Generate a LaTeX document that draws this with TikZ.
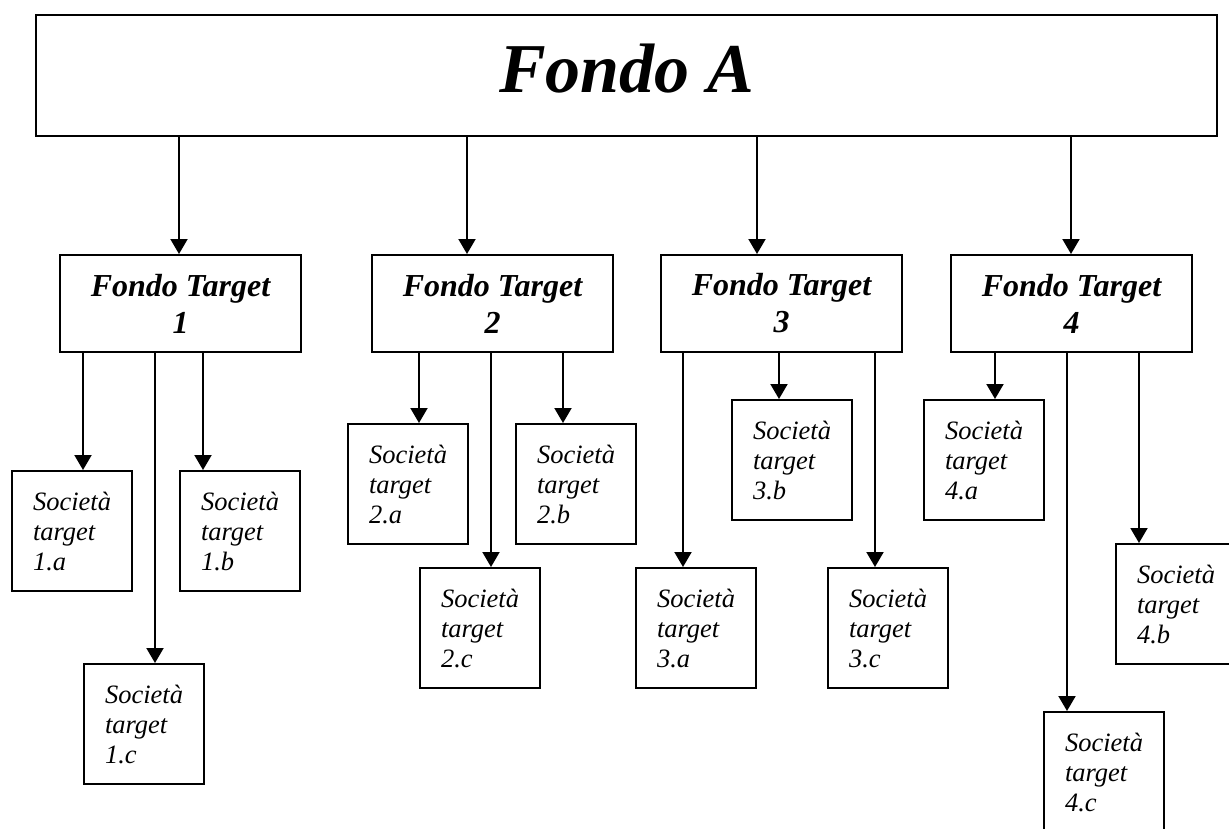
\documentclass[tikz,border=0pt]{standalone}
\usepackage{fontspec}
\setmainfont{Liberation Serif}
\usetikzlibrary{arrows.meta,calc,positioning}

\tikzset{
  boxline/.style={draw, line width=2pt},
  arr/.style={line width=2pt, -{Triangle[width=17pt,length=15pt]}},
  fundbox/.style={boxline, anchor=north west, inner sep=0pt,
    minimum width=1181pt, minimum height=121pt,
    font=\fontsize{70}{80}\selectfont\bfseries\itshape,
    text height=48pt, text depth=15pt},
  targetbox/.style={boxline, anchor=north west, inner sep=0pt,
    minimum width=241pt, minimum height=97pt, align=center,
    font=\fontsize{32}{37}\selectfont\bfseries\itshape},
  subbox/.style={boxline, anchor=north west, inner sep=0pt,
    minimum width=120pt, minimum height=120pt, align=left,
    font=\fontsize{26.5}{30}\selectfont\itshape}
}

\begin{document}
\begin{tikzpicture}[x=1pt, y=-1pt]
  % fix page size and cut what runs off the edge
  \useasboundingbox (0,0) rectangle (1229,828);
  \clip (0,0) rectangle (1229,828);

  % define main fund
  \node[fundbox] (fa) at (35,14) {Fondo A};

  % define target funds
  \node[targetbox] (ft1) at (59,254) {Fondo Target\\1};
  \node[targetbox] (ft2) at (371,254) {Fondo Target\\2};
  \node[targetbox] (ft3) at (660,254) {Fondo Target\\3};
  \node[targetbox] (ft4) at (950,254) {Fondo Target\\4};

  % define target companies
  \node[subbox] (s1a) at (11,470) {Società\\target\\1.a};
  \node[subbox] (s1b) at (179,470) {Società\\target\\1.b};
  \node[subbox] (s1c) at (83,663) {Società\\target\\1.c};
  \node[subbox] (s2a) at (347,423) {Società\\target\\2.a};
  \node[subbox] (s2b) at (515,423) {Società\\target\\2.b};
  \node[subbox] (s2c) at (419,567) {Società\\target\\2.c};
  \node[subbox] (s3a) at (635,567) {Società\\target\\3.a};
  \node[subbox] (s3b) at (731,399) {Società\\target\\3.b};
  \node[subbox] (s3c) at (827,567) {Società\\target\\3.c};
  \node[subbox] (s4a) at (923,399) {Società\\target\\4.a};
  \node[subbox] (s4b) at (1115,543) {Società\\target\\4.b};
  \node[subbox] (s4c) at (1043,711) {Società\\target\\4.c};

  % arrows from main fund to target funds
  \foreach \t/\d in {ft1/120, ft2/96, ft3/97, ft4/121} {
    \coordinate (in) at ($(\t.north west)+(\d,0)$);
    \draw[arr] (fa.south -| in) -- (in);
  }

  % arrows from target funds to companies
  \foreach \s/\p/\d in {s1a/ft1/72, s1b/ft1/24, s1c/ft1/72,
                        s2a/ft2/72, s2b/ft2/48, s2c/ft2/72,
                        s3a/ft3/48, s3b/ft3/48, s3c/ft3/48,
                        s4a/ft4/72, s4b/ft4/24, s4c/ft4/24} {
    \coordinate (in) at ($(\s.north west)+(\d,0)$);
    \draw[arr] (\p.south -| in) -- (in);
  }
\end{tikzpicture}
\end{document}
